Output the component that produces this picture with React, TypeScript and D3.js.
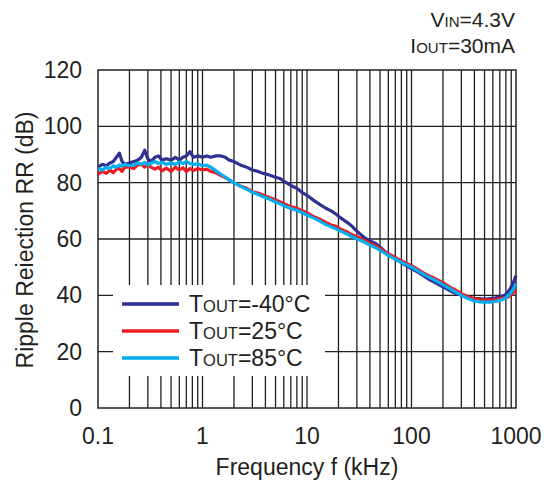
import React from "react";
import * as d3 from "d3";

const freqs = [0.1, 0.11, 0.12, 0.13, 0.14, 0.15, 0.16, 0.17, 0.18, 0.2, 0.22, 0.24, 0.26, 0.28, 0.3, 0.32, 0.35, 0.38, 0.41, 0.45, 0.5, 0.55, 0.6, 0.65, 0.7, 0.76, 0.82, 0.9, 1.0, 1.1, 1.2, 1.35, 1.5, 1.65, 1.8, 2.0, 2.3, 2.65, 3.0, 3.4, 3.8, 4.3, 4.9, 5.5, 6.2, 7.0, 8.0, 9.0, 10, 11.5, 13, 15, 17, 19, 21, 24, 27, 30, 35, 40, 45, 50, 58, 66, 75, 85, 100, 115, 130, 150, 175, 200, 230, 260, 300, 350, 400, 450, 500, 560, 630, 700, 780, 850, 920, 1000];

const rrMinus40 = [85.5, 86.5, 86, 87, 87.5, 89, 90.5, 87.5, 86.5, 87, 87.5, 88, 89, 91.5, 88.5, 87.5, 89, 89.5, 88, 88.5, 88, 89, 88, 89, 89.5, 91, 89, 89.5, 89, 89.5, 89, 89.5, 89.5, 89, 88, 87.5, 86.3, 85.5, 84.5, 84, 83.3, 82.8, 82, 81.5, 80.2, 79, 78, 76.5, 75.5, 73.8, 72.5, 71, 70, 68.8, 67.5, 66, 64.5, 62.8, 60.6, 59.3, 58.5, 57.2, 55, 53.5, 52.3, 51, 49.5, 48.2, 47, 45.5, 44.2, 43, 41.8, 40.8, 40, 39.3, 38.8, 38.8, 38.6, 38.8, 39, 39.5, 40, 41.5, 43.5, 47];

const rr25 = [83, 84, 83.3, 84.5, 83.5, 84.8, 85, 84, 85.5, 85.5, 85, 86.3, 86.5, 85.5, 86.5, 85.5, 84.8, 85.5, 84.2, 85.2, 84, 85.5, 84.5, 85.3, 84, 85, 84.3, 85, 84.5, 84.8, 84, 83.5, 82.5, 81.8, 81, 80, 78.8, 78, 76.8, 76.3, 75.6, 74.8, 74, 73.2, 72.3, 71.5, 70.9, 70, 69.3, 68, 67.2, 66, 65, 64.5, 63.5, 62.6, 61.5, 60.8, 59.6, 58.5, 57.5, 56.7, 55, 54, 52.8, 51.8, 50.5, 49.2, 48, 46.8, 45.6, 44.5, 43, 42, 40.6, 39.5, 38.8, 38.5, 38.3, 38.3, 38.5, 38.8, 39, 39.5, 40.5, 42];

const rr85 = [85, 84.5, 85.5, 85, 86, 85.5, 86.3, 85.8, 86.5, 86, 86.2, 87, 86.5, 87.2, 86.3, 86.8, 87.5, 86.8, 87.3, 86.5, 87, 86.5, 87.3, 86.8, 87.5, 86.8, 86.5, 86.7, 86, 86.2, 85.5, 84.2, 83, 82, 81, 80, 78.8, 77.6, 76.6, 75.8, 75, 74.3, 73.3, 72.5, 71.6, 70.8, 70.2, 69.3, 68.5, 67.5, 66.5, 65.2, 64.3, 63.6, 62.8, 61.8, 60.8, 60, 59, 57.8, 57, 56, 54.5, 53.3, 52.3, 51.2, 50, 48.7, 47.5, 46.3, 45, 43.8, 42.5, 41.3, 40, 38.8, 38, 37.7, 37.6, 37.6, 37.8, 38.2, 38.8, 40, 41.5, 44];

const xTickValues = [0.1, 1, 10, 100, 1000];
const xTickLabels = ["0.1", "1", "10", "100", "1000"];
const yTickValues = [0, 20, 40, 60, 80, 100, 120];

const seriesNames = ["-40°C", "25°C", "85°C"];
const seriesColors = ["#2e3192", "#ed1c24", "#00aeef"];
const seriesData = [rrMinus40, rr25, rr85];

export default function App() {
  const W = 544, H = 487;
  const left = 98, right = 516, top = 70, bottom = 408;
  const x = d3.scaleLog().domain([0.1, 1000]).range([left, right]);
  const y = d3.scaleLinear().domain([0, 120]).range([bottom, top]);

  const minor: number[] = [];
  [0.1, 1, 10, 100].forEach((dec) => {
    for (let k = 2; k <= 9; k++) minor.push(dec * k);
  });
  const majors = [1, 10, 100];

  const line = (vals: number[]) =>
    d3.line<number>()
      .x((_, i) => x(freqs[i]))
      .y((v) => y(v))(vals) || "";

  const font = "'Liberation Sans', Arial, Helvetica, sans-serif";
  const gridColor = "#231f20";

  const legX0 = 122, legX1 = 179, legTextX = 189;
  const legY = [304, 331, 358];

  return (
    <svg width={W} height={H} style={{ position: "absolute", left: 0, top: 0 }} fontFamily={font}>
      <rect x={0} y={0} width={W} height={H} fill="#ffffff" />
      {minor.map((f) => (
        <line key={"v" + f} x1={x(f)} x2={x(f)} y1={top} y2={bottom} stroke={gridColor} strokeWidth={1.3} />
      ))}
      {majors.map((f) => (
        <line key={"m" + f} x1={x(f)} x2={x(f)} y1={top} y2={bottom} stroke={gridColor} strokeWidth={1.3} />
      ))}
      {yTickValues.slice(1, -1).map((v) => (
        <line key={"h" + v} x1={left} x2={right} y1={y(v)} y2={y(v)} stroke={gridColor} strokeWidth={1.3} />
      ))}
      <rect x={113} y={285} width={212} height={91} fill="#ffffff" />
      <rect x={left} y={top} width={right - left} height={bottom - top} fill="none" stroke={gridColor} strokeWidth={1.5} />
      {seriesData.map((d, i) => (
        <path key={"s" + i} d={line(d)} fill="none" stroke={seriesColors[i]} strokeWidth={3.2} strokeLinejoin="round" />
      ))}
      {seriesNames.map((n, i) => (
        <g key={"l" + i}>
          <line x1={legX0} x2={legX1} y1={legY[i]} y2={legY[i]} stroke={seriesColors[i]} strokeWidth={3.5} />
          <text x={legTextX} y={legY[i] + 8} fontSize={23} fill="#231f20">
            T<tspan fontSize={16.5}>OUT</tspan>={n}
          </text>
        </g>
      ))}
      {yTickValues.map((v) => (
        <text key={"yt" + v} x={82} y={y(v) + 8} fontSize={23} textAnchor="end" fill="#231f20">
          {v}
        </text>
      ))}
      {xTickValues.map((v, i) => (
        <text key={"xt" + v} x={x(v)} y={444} fontSize={23} textAnchor="middle" fill="#231f20">
          {xTickLabels[i]}
        </text>
      ))}
      <text x={(left + right) / 2} y={475} fontSize={23} textAnchor="middle" fill="#231f20">
        Frequency f (kHz)
      </text>
      <text transform={`translate(33,${(110 + 370) / 2}) rotate(-90)`} fontSize={23} textAnchor="middle" fill="#231f20">
        Ripple Reiection RR (dB)
      </text>
      <text x={515} y={27} fontSize={21} textAnchor="end" fill="#231f20">
        V<tspan fontSize={15}>IN</tspan>=4.3V
      </text>
      <text x={515} y={53} fontSize={21} textAnchor="end" fill="#231f20">
        I<tspan fontSize={15}>OUT</tspan>=30mA
      </text>
    </svg>
  );
}
